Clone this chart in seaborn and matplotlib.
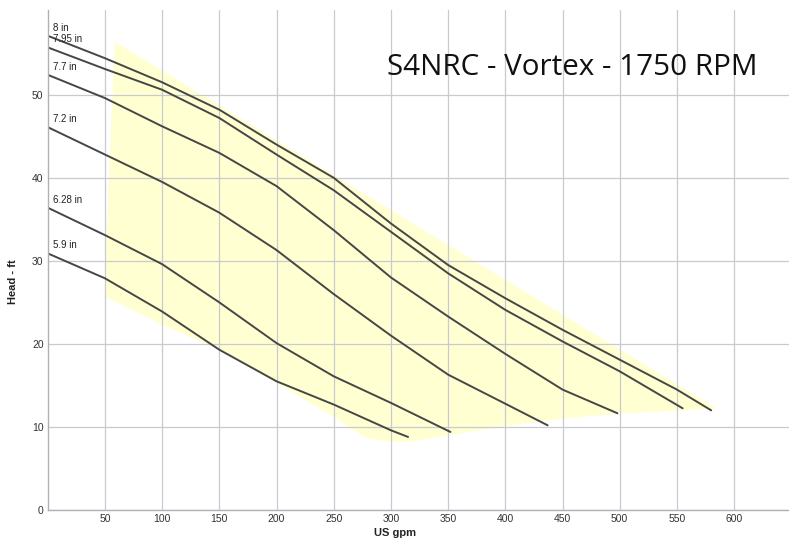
import numpy as np
import pandas as pd
import seaborn as sns
from matplotlib import pyplot as plt

# impeller curves (US gpm, head ft)
SIZES = ["8 in", "7.95 in", "7.7 in", "7.2 in", "6.28 in", "5.9 in"]

gpm_8 = [0, 50, 100, 150, 200, 250, 300, 350, 400, 450, 500, 550, 580]
head_8 = [57.1, 54.4, 51.5, 48.2, 44.0, 40.0, 34.5, 29.5, 25.5, 21.7, 18.1, 14.5, 12.0]

gpm_795 = [0, 50, 100, 150, 200, 250, 300, 350, 400, 450, 500, 555]
head_795 = [55.7, 53.1, 50.6, 47.2, 42.8, 38.5, 33.5, 28.5, 24.1, 20.3, 16.7, 12.25]

gpm_77 = [0, 50, 100, 150, 200, 250, 300, 350, 400, 450, 498]
head_77 = [52.4, 49.6, 46.2, 43.0, 39.0, 33.7, 28.0, 23.3, 18.8, 14.5, 11.65]

gpm_72 = [0, 50, 100, 150, 200, 250, 300, 350, 400, 437]
head_72 = [46.1, 42.8, 39.5, 35.8, 31.3, 26.0, 21.0, 16.3, 12.8, 10.2]

gpm_628 = [0, 50, 100, 150, 200, 250, 300, 352]
head_628 = [36.4, 33.1, 29.6, 25.0, 20.1, 16.1, 12.9, 9.4]

gpm_59 = [0, 50, 100, 150, 200, 250, 300, 315]
head_59 = [30.9, 27.9, 23.9, 19.3, 15.5, 12.7, 9.6, 8.8]

# recommended operating region (yellow)
region_gpm = [58.5, 585, 540, 500, 450, 400, 350, 320, 300, 280, 265, 250,
              200, 150, 100, 75, 50, 52, 55]
region_head = [56.4, 12.2, 11.9, 11.6, 11.0, 10.1, 9.0, 8.3, 8.2, 8.6, 9.8, 11.2,
               15.3, 19.3, 22.3, 24.0, 25.7, 35.0, 45.0]

X_TICKS = [50, 100, 150, 200, 250, 300, 350, 400, 450, 500, 550, 600]
Y_TICKS = [0, 10, 20, 30, 40, 50]
TITLE = "S4NRC - Vortex - 1750 RPM"

curves = [(gpm_8, head_8), (gpm_795, head_795), (gpm_77, head_77),
          (gpm_72, head_72), (gpm_628, head_628), (gpm_59, head_59)]

rows = []
for size, (g, h) in zip(SIZES, curves):
    for a, b in zip(g, h):
        rows.append({"size": size, "gpm": a, "head": b})
df = pd.DataFrame(rows)

sns.set_style("whitegrid")
plt.rcParams["font.family"] = ["Liberation Sans", "DejaVu Sans"]

fig = plt.figure(figsize=(7.89, 5.42), dpi=100)
ax = fig.add_axes([0.0605, 0.059, 0.9395, 0.9225])

ax.fill(region_gpm, region_head, color="#FFFFD2", lw=0, zorder=0.2)

sns.lineplot(data=df, x="gpm", y="head", hue="size",
             palette={s: "#464646" for s in SIZES}, legend=False,
             sort=False, estimator=None, lw=1.4, ax=ax)

for size, (g, h) in zip(SIZES, curves):
    ax.text(5, h[0] + 0.35, size, fontsize=7, color="#222222",
            ha="left", va="bottom")

ax.text(297, 52.4, TITLE, fontsize=21.3, color="#111111", ha="left",
        va="baseline", family=["Open Sans", "DejaVu Sans"])

ax.set_xlim(0, 648)
ax.set_ylim(0, 60.2)
ax.set_xticks(X_TICKS)
ax.set_yticks(Y_TICKS)
ax.grid(True, color="#C9C9D1", lw=0.9)
ax.tick_params(length=0, labelsize=7.5, colors="#333333", pad=3)

ax.set_xlabel("US gpm", fontsize=8, fontweight="bold", color="#222222")
ax.set_ylabel("Head - ft", fontsize=8, fontweight="bold", color="#222222")
ax.xaxis.set_label_coords(0.468, -0.035)
ax.yaxis.set_label_coords(-0.04, 0.456)

sns.despine(ax=ax, top=True, right=True)
for side in ["left", "bottom"]:
    ax.spines[side].set_color("#B0B0B8")
    ax.spines[side].set_linewidth(1.0)

plt.savefig("out.png", dpi=100)
plt.close(fig)
